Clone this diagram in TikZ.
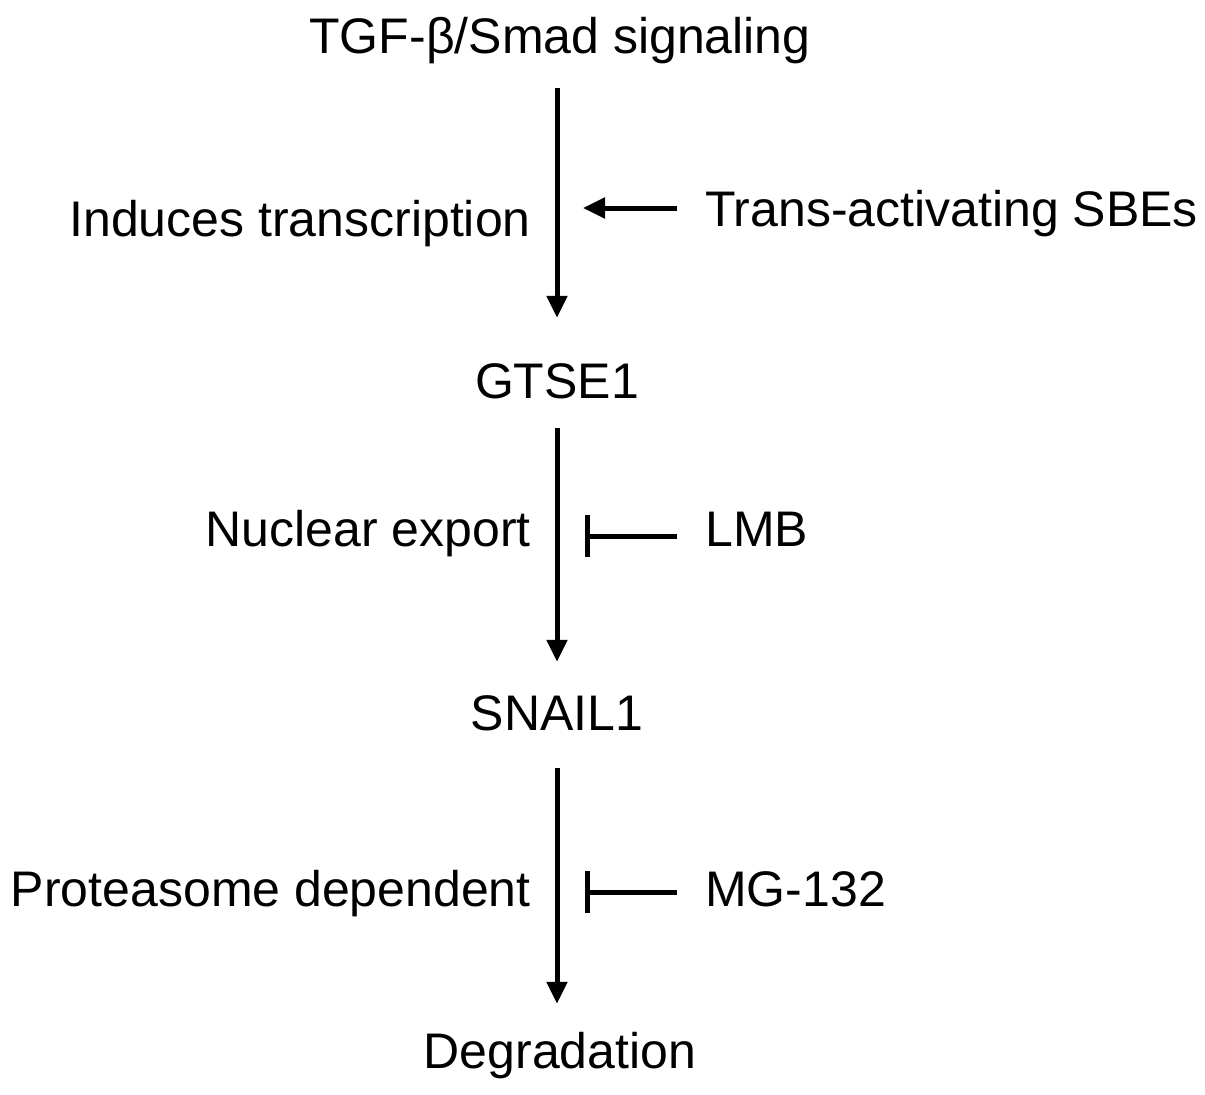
\documentclass[tikz,border=0pt]{standalone}
\usepackage{fontspec}
\setmainfont{Liberation Sans}
\usetikzlibrary{arrows.meta}
\begin{document}
\begin{tikzpicture}[x=1bp,y=-1bp,
  txt/.style={inner sep=0pt,text height=36bp,text depth=11bp,font=\fontsize{50bp}{60bp}\selectfont},
  arr/.style={line width=5bp,-{Triangle[length=22bp,width=20bp]}},
  inh/.style={line width=5bp,-{Bar[width=42bp]}},
  act/.style={line width=5bp,-{Triangle[length=22bp,width=20bp]}}]
\useasboundingbox (0,0) rectangle (1205,1095);
% main chain
\node[txt,anchor=base] (tgf) at (560,53) {TGF-β/Smad signaling};
\node[txt,anchor=base] (gtse) at (557,398) {GTSE1};
\node[txt,anchor=base] (snail) at (557,730) {SNAIL1};
\node[txt,anchor=base] (deg) at (560,1068) {Degradation};
% side labels
\node[txt,anchor=base east] (ind) at (531,236) {Induces transcription};
\node[txt,anchor=base west] (sbe) at (705,226) {Trans-activating SBEs};
\node[txt,anchor=base east] (nuc) at (531,546) {Nuclear export};
\node[txt,anchor=base west] (lmb) at (705,546) {LMB};
\node[txt,anchor=base east] (pro) at (531,906) {Proteasome dependent};
\node[txt,anchor=base west] (mg) at (705,906) {MG-132};
% end points on the main line
\coordinate (sbeend) at (583,208);
\coordinate (lmbend) at (585,536);
\coordinate (mgend) at (585,892);
% vertical arrows
\draw[arr,shorten <=24bp,shorten >=44bp] (tgf.south -| gtse.north) -- (gtse.north);
\draw[arr,shorten <=19bp,shorten >=32bp] (gtse.south) -- (snail.north);
\draw[arr,shorten <=27bp,shorten >=28bp] (snail.south) -- (deg.north -| snail.south);
% side connectors
\draw[act,shorten <=28bp] (sbe.west |- sbeend) -- (sbeend);
\draw[inh,shorten <=28bp] (lmb.west |- lmbend) -- (lmbend);
\draw[inh,shorten <=28bp] (mg.west |- mgend) -- (mgend);
\end{tikzpicture}
\end{document}
